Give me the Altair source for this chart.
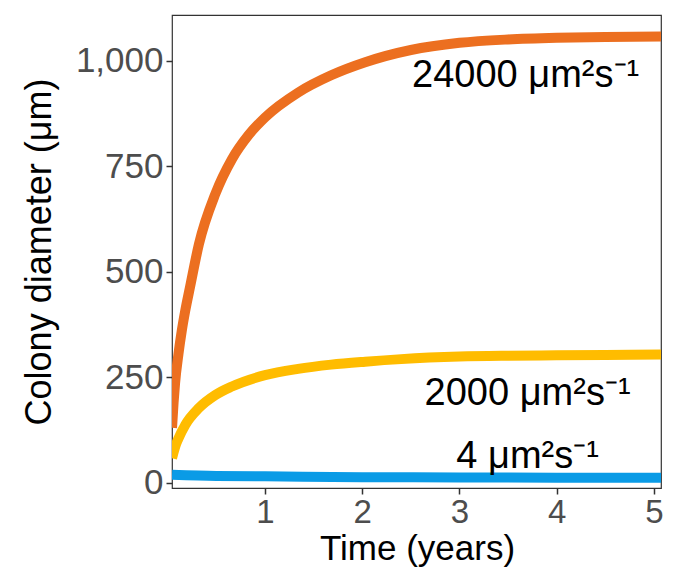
import altair as alt
import pandas as pd

# --- data ---
t_orange = [0.044, 0.06, 0.075, 0.11, 0.144, 0.18, 0.23, 0.32, 0.49, 0.66, 0.83, 1.0, 1.34, 1.68, 2.03, 2.5, 3.0, 3.5, 4.0, 4.5, 5.072]
v_orange = [130, 190, 235, 305, 360, 408, 465, 565, 685, 767, 824, 866, 925, 966, 997, 1026, 1043, 1051, 1055, 1057, 1058]

t_yellow = [0.044, 0.06, 0.08, 0.11, 0.18, 0.32, 0.49, 0.66, 1.0, 1.34, 1.68, 2.03, 2.4, 3.0, 3.5, 4.0, 4.5, 5.072]
v_yellow = [58, 72, 88, 105, 137, 177, 208, 228, 255, 270, 280, 287, 293, 299, 301, 302, 303, 304]

t_blue = [0.044, 0.5, 1.0, 2.0, 3.0, 4.0, 5.072]
v_blue = [19, 16, 15, 13, 12.5, 12, 12]

series_names = ["24000", "2000", "4"]
series_colors = ["#EC6F20", "#FFBC00", "#0A9BE6"]

label_texts = ["24000 μm²s⁻¹", "2000 μm²s⁻¹", "4 μm²s⁻¹"]
label_x = [3.68, 3.70, 3.70]
label_y = [939, 184, 35]

x_ticks = [1, 2, 3, 4, 5]
y_ticks = [0, 250, 500, 750, 1000]

rows = []
for name, ts, vs in zip(series_names, [t_orange, t_yellow, t_blue], [v_orange, v_yellow, v_blue]):
    for t, v in zip(ts, vs):
        rows.append({"series": name, "time": t, "diameter": v})
df = pd.DataFrame(rows)

labels = pd.DataFrame({"text": label_texts, "time": label_x, "diameter": label_y})

FONT = "Liberation Sans"

xscale = alt.Scale(domain=[0.0437, 5.072], nice=False, zero=False)
yscale = alt.Scale(domain=[-12.6, 1109], nice=False, zero=False)

x_axis = alt.Axis(
    values=x_ticks, format="d", title="Time (years)", grid=False, domain=False,
    labelFont=FONT, labelFontSize=33, labelColor="#4D4D4D", labelPadding=2,
    tickColor="#333333", tickSize=6, tickWidth=1.5,
    titleFont=FONT, titleFontSize=35, titleColor="black", titleFontWeight="normal",
    titleX=245, titleY=71, titleBaseline="alphabetic", titleAlign="center",
)
y_axis = alt.Axis(
    values=y_ticks, format=",d", title="Colony diameter (μm)", grid=False, domain=False,
    labelFont=FONT, labelFontSize=35, labelColor="#4D4D4D", labelPadding=3,
    tickColor="#333333", tickSize=6, tickWidth=1.5,
    titleFont=FONT, titleFontSize=36, titleColor="black", titleFontWeight="normal",
    titleX=-122, titleY=236.5, titleAngle=270, titleBaseline="alphabetic", titleAlign="center",
)

lines = alt.Chart(df).mark_line(strokeWidth=10, interpolate="monotone", clip=True, strokeCap="butt").encode(
    x=alt.X("time:Q", scale=xscale, axis=x_axis),
    y=alt.Y("diameter:Q", scale=yscale, axis=y_axis),
    color=alt.Color("series:N", scale=alt.Scale(domain=series_names, range=series_colors), legend=None),
    detail="series:N",
)

text = alt.Chart(labels).mark_text(
    font=FONT, fontSize=38, color="black", align="center", baseline="alphabetic"
).encode(
    x=alt.X("time:Q", scale=xscale),
    y=alt.Y("diameter:Q", scale=yscale),
    text="text:N",
)

chart = alt.layer(lines, text).properties(
    width=489, height=473,
    autosize=alt.AutoSizeParams(type="none"),
    padding={"left": 164, "top": 7, "right": 5, "bottom": 79},
).configure_view(
    stroke="#333333", strokeWidth=1.2
)

chart.save("out.html", embed_options={"renderer": "svg", "actions": False})
